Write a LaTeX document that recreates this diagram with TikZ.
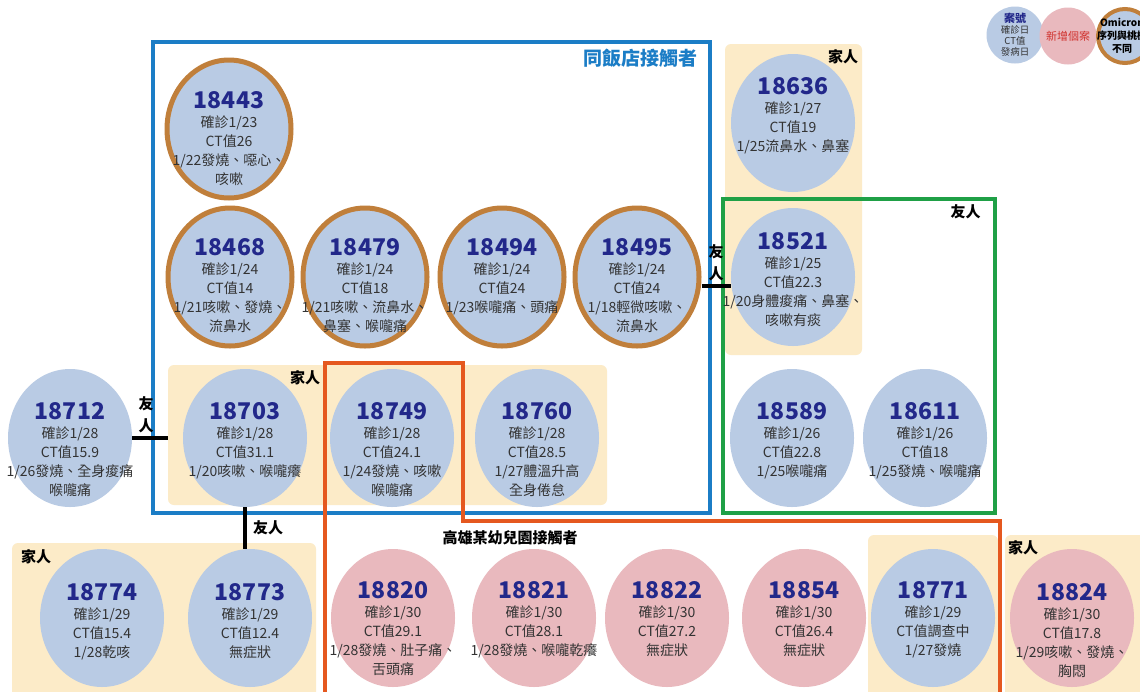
\documentclass[tikz,border=0pt]{standalone}
\usepackage{fontspec}
\setmainfont{Noto Sans CJK TC}
\usepackage{tikz}
\usetikzlibrary{shapes.geometric,fit,calc}

\definecolor{caseblue}{HTML}{B9CBE4}
\definecolor{casepink}{HTML}{E9B9BE}
\definecolor{omibrown}{HTML}{C07F3B}
\definecolor{famyellow}{HTML}{FCEBC8}
\definecolor{hotelblue}{HTML}{1B7DC6}
\definecolor{friendgreen}{HTML}{1FA046}
\definecolor{schoolorange}{HTML}{E5581F}
\definecolor{numblue}{HTML}{22288A}
\definecolor{txtgray}{HTML}{333333}
\definecolor{newred}{HTML}{D0312D}

\newcommand{\casenum}{\fontsize{23}{23}\selectfont\bfseries\color{numblue}}
% one case: ellipse + its text
\newcommand{\casenode}[6][29]{%
  \node[#4] (#2) at (#3) {};
  \node[casetext] (#2-txt) at ([yshift={#1pt+8.5pt}]#2.center) {{\casenum #5}\\#6};
}

\tikzset{
  known/.style={ellipse, fill=caseblue, minimum width=124, minimum height=138, inner sep=0pt},
  newcase/.style={known, fill=casepink},
  omicron/.style={known, draw=omibrown, line width=5pt},
  casetext/.style={anchor=north, align=center, inner sep=0pt, text=txtgray,
    font=\fontsize{14}{19}\selectfont},
  famzone/.style={fill=famyellow, rounded corners=6pt, inner sep=0pt},
  frame/.style={line width=3.5pt, inner sep=0pt},
  tie/.style={line width=4pt, black},
  grouplabel/.style={font=\fontsize{15}{22}\selectfont\bfseries, inner sep=0pt},
}

\begin{document}
\begin{tikzpicture}[x=1pt, y=-1pt]
\useasboundingbox (0,0) rectangle (1140,691);
\fill[white] (0,0) rectangle (1140,691);

% family zones
\node[famzone, fit={(168,365) (607,505)}] (famrow) {};
\node[famzone, fit={(725,44) (862,355)}] (famcol) {};
\node[famzone, fit={(12,543) (316,705)}] (famleft) {};
\node[famzone, fit={(868,535) (998,705)}] (fam18771) {};
\node[famzone, fit={(1005,535) (1150,705)}] (fam18824) {};
\node[grouplabel] (famrowlbl) at (305,378) {家人};
\node[grouplabel] (famcollbl) at (843,57) {家人};
\node[grouplabel] (famleftlbl) at (36,557) {家人};
\node[grouplabel] (fam18824lbl) at (1023,548) {家人};

% contact groups
\node[frame, draw=hotelblue, fit={(153,42) (710,513)}] (hotel) {};
\node[grouplabel, font=\fontsize{19}{22}\selectfont\bfseries, text=hotelblue, anchor=north east]
  (hotellbl) at ([xshift=-14pt, yshift=-9pt]hotel.north east) {同飯店接觸者};
\node[frame, draw=friendgreen, fit={(723,199) (995,513)}] (friends) {};
\node[grouplabel, anchor=north east] (friendslbl) at ([xshift=-16pt, yshift=-7pt]friends.north east) {友人};
\draw[schoolorange, line width=3.5pt] (325,700) -- (325,363) -- (463,363) -- (463,521) -- (1000,521) -- (1000,700);
\node[grouplabel] (schoollbl) at (510,538) {高雄某幼兒園接觸者};

% cases
\casenode{c18443}{229,129}{omicron}{18443}{確診1/23\\CT值26\\1/22發燒、噁心、\\咳嗽}
\casenode[30]{c18468}{230,277}{omicron}{18468}{確診1/24\\CT值14\\1/21咳嗽、發燒、\\流鼻水}
\casenode[30]{c18479}{365,277}{omicron}{18479}{確診1/24\\CT值18\\1/21咳嗽、流鼻水、\\鼻塞、喉嚨痛}
\casenode[30]{c18494}{502,277}{omicron}{18494}{確診1/24\\CT值24\\1/23喉嚨痛、頭痛}
\casenode[30]{c18495}{637,277}{omicron}{18495}{確診1/24\\CT值24\\1/18輕微咳嗽、\\流鼻水}
\casenode[37]{c18636}{793,123}{known}{18636}{確診1/27\\CT值19\\1/25流鼻水、鼻塞}
\casenode[36]{c18521}{793,277}{known}{18521}{確診1/25\\CT值22.3\\1/20身體痠痛、鼻塞、\\咳嗽有痰}
\casenode[27]{c18712}{70,438}{known}{18712}{確診1/28\\CT值15.9\\1/26發燒、全身痠痛\\喉嚨痛}
\casenode[27]{c18703}{245,438}{known}{18703}{確診1/28\\CT值31.1\\1/20咳嗽、喉嚨癢}
\casenode[27]{c18749}{392,438}{known}{18749}{確診1/28\\CT值24.1\\1/24發燒、咳嗽\\喉嚨痛}
\casenode[27]{c18760}{537,438}{known}{18760}{確診1/28\\CT值28.5\\1/27體溫升高\\全身倦怠}
\casenode[27]{c18589}{792,438}{known}{18589}{確診1/26\\CT值22.8\\1/25喉嚨痛}
\casenode[27]{c18611}{925,438}{known}{18611}{確診1/26\\CT值18\\1/25發燒、喉嚨痛}
\casenode[26]{c18774}{102,618}{known}{18774}{確診1/29\\CT值15.4\\1/28乾咳}
\casenode[26]{c18773}{250,618}{known}{18773}{確診1/29\\CT值12.4\\無症狀}
\casenode[28]{c18820}{393,618}{newcase}{18820}{確診1/30\\CT值29.1\\1/28發燒、肚子痛、\\舌頭痛}
\casenode[28]{c18821}{534,618}{newcase}{18821}{確診1/30\\CT值28.1\\1/28發燒、喉嚨乾癢}
\casenode[28]{c18822}{667,618}{newcase}{18822}{確診1/30\\CT值27.2\\無症狀}
\casenode[28]{c18854}{804,618}{newcase}{18854}{確診1/30\\CT值26.4\\無症狀}
\casenode[28]{c18771}{933,618}{known}{18771}{確診1/29\\CT值調查中\\1/27發燒}
\casenode[26]{c18824}{1072,618}{newcase}{18824}{確診1/30\\CT值17.8\\1/29咳嗽、發燒、\\胸悶}

% friend ties
\draw[tie] (c18712.east) -- (c18712.east -| famrow.west)
  node[midway, above=3pt, grouplabel, align=center, xshift=-4pt] (tie1lbl) {友\\人};
\draw[tie] ([yshift=-9pt]c18495.east) -- ([yshift=-9pt]c18521.west)
  node[midway, above=3pt, grouplabel, align=center] (tie2lbl) {友\\人};
\draw[tie] (c18703.south) -- (c18703.south |- c18773.north)
  node[midway, right=6pt, grouplabel] (tie3lbl) {友人};

% legend
\node[circle, fill=caseblue, minimum size=57, inner sep=0pt] (lgknown) at (1015,35) {};
\node[align=center, inner sep=0pt, font=\fontsize{9.5}{11}\selectfont, text=txtgray] (lgknowntxt) at (lgknown)
  {{\bfseries\color{numblue}\fontsize{11}{11}\selectfont 案號}\\確診日\\CT值\\發病日};
\node[circle, fill=casepink, minimum size=57, inner sep=0pt, text=newred,
  font=\fontsize{11}{12}\selectfont] (lgnew) at (1068,36) {新增個案};
\node[circle, fill=caseblue, draw=omibrown, line width=4pt, minimum size=54, inner sep=0pt] (lgomi) at (1125,36) {};
\node[align=center, inner sep=0pt, font=\fontsize{10}{13}\selectfont\bfseries] (lgomitxt) at (1122,36)
  {Omicron\\序列與桃機\\不同};
\end{tikzpicture}
\end{document}
